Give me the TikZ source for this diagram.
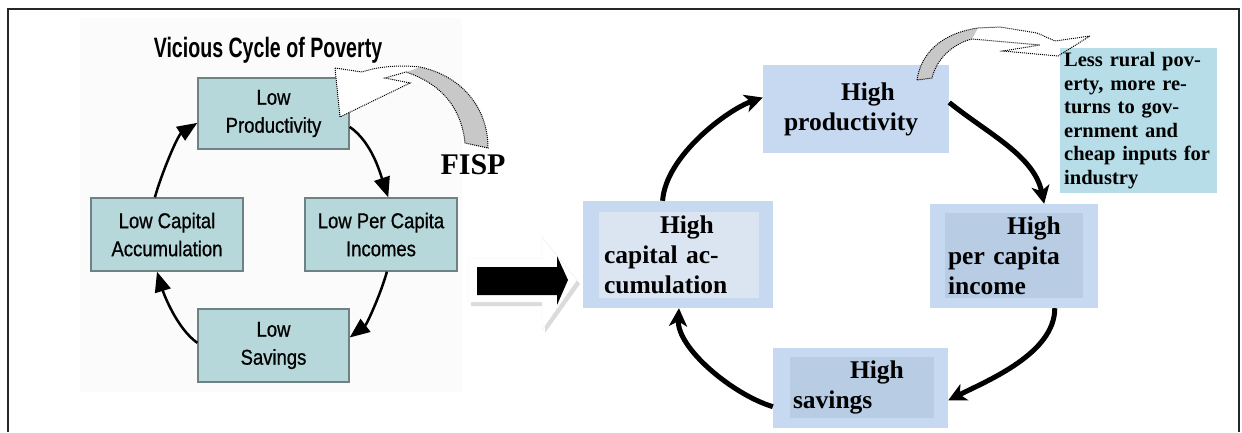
\documentclass[tikz,border=0pt]{standalone}
\usepackage{fontspec}
\setmainfont{Liberation Serif}
\newfontfamily\narrowsans[FakeStretch=0.86, FakeBold=0.8]{Liberation Sans}
\newfontfamily\titlesans[FakeStretch=0.70]{Liberation Sans}
\usetikzlibrary{arrows.meta}
\definecolor{lowfill}{HTML}{B7D8DA}
\definecolor{lowedge}{HTML}{6E8183}
\definecolor{highblue}{HTML}{C6D9F1}
\definecolor{highlight}{HTML}{DBE5F1}
\definecolor{highdark}{HTML}{B8CCE4}
\definecolor{lessfill}{HTML}{B6DDE8}
\definecolor{fispgray}{HTML}{C8C8C8}

\begin{document}
\begin{tikzpicture}[x=1pt, y=-1pt,
  lowbox/.style={draw=lowedge, fill=lowfill, line width=1.4pt, inner sep=0pt, align=center,
    font=\narrowsans\fontsize{21.5}{28}\selectfont},
  lowarrow/.style={line width=2.5pt, -{Triangle[length=20pt, width=16pt]}},
  highbox/.style={fill=highblue, inner sep=0pt},
  hightext/.style={inner sep=0pt, align=left, font=\fontsize{25.5}{30}\selectfont\bfseries},
  higharrow/.style={line width=5pt, -{Stealth[length=18pt, width=18pt, inset=5pt]}},
  fispline/.style={densely dotted, line width=1pt}]
  \useasboundingbox (0,0) rectangle (1242,432);
  \fill[gray!3] (80,18) rectangle (462,392);
  \draw[line width=2pt, black!85] (8,432) -- (8,9) -- (1238.5,9) -- (1238.5,432);

  % vicious cycle
  \node[font=\titlesans\bfseries\fontsize{28}{30}\selectfont] (CycleTitle) at (268,50) {Vicious Cycle of Poverty};
  \node[lowbox, minimum width=151pt, minimum height=71pt] (LowProd) at (273.5,113.5) {Low\\Productivity};
  \node[lowbox, minimum width=152pt, minimum height=73pt] (LowCap) at (167,234.5) {Low Capital\\Accumulation};
  \node[lowbox, minimum width=152pt, minimum height=73pt] (LowInc) at (381,234.5) {Low Per Capita\\Incomes};
  \node[lowbox, minimum width=151pt, minimum height=73pt] (LowSav) at (273.5,345.5) {Low\\Savings};
  \draw[lowarrow] (LowProd.-10) .. controls +(22,15) and +(-8,-24) .. (LowInc.79);
  \draw[lowarrow] (LowInc.-81) .. controls +(-6,22) and +(17,-13) .. (LowSav.6);
  \draw[lowarrow] (LowSav.178) .. controls +(-20,-14) and +(7,23) .. (LowCap.-105);
  \draw[lowarrow] (LowCap.108) .. controls +(6,-22) and +(-20,13) .. (LowProd.-173);

  % FISP arrow
  \fill[fispgray] (420,67) .. controls (462,76) and (488,108) .. (488,148) -- (465,143)
    .. controls (462,112) and (445,85) .. (406,72) -- cycle;
  \fill[white] (335,68) -- (362,72) .. controls (380,66) and (400,65) .. (420,67) -- (406,72)
    -- (385,78) -- (410,83) -- (340,117) -- cycle;
  \draw[fispline] (335,68) -- (362,72) .. controls (380,66) and (400,65) .. (420,67)
    .. controls (462,76) and (488,108) .. (488,148) -- (465,143)
    .. controls (462,112) and (445,85) .. (406,72) -- (385,78) -- (410,83) -- (340,117) -- cycle;
  \node[font=\fontsize{30}{32}\selectfont\bfseries] (Fisp) at (473,165) {FISP};

  % shift arrow
  \fill[gray!28] (471,262) -- (545,262) -- (545,241) -- (580,284) -- (545,333) -- (545,306) -- (471,306) -- cycle;
  \filldraw[fill=white, draw=gray!15] (468,258) -- (542,258) -- (542,237) -- (577,280) -- (542,330) -- (542,302) -- (468,302) -- cycle;
  \fill[black] (477,267) -- (557,267) -- (557,256) -- (568,280) -- (557,305) -- (557,295) -- (477,295) -- cycle;

  % virtuous cycle
  \node[highbox, hightext, minimum width=186pt, minimum height=88pt, text width=144pt] (HighProd) at (856,109)
    {\hspace*{57pt}High\\productivity};
  \node[highbox, minimum width=190pt, minimum height=107pt] (HighCap) at (678,254.5) {};
  \node[hightext, fill=highlight, minimum width=160pt, minimum height=86pt, text width=150pt] (HighCapText) at (679,255)
    {\hspace*{56pt}High\\capital ac-\\cumulation};
  \node[highbox, minimum width=168pt, minimum height=104pt] (HighInc) at (1014,256) {};
  \node[hightext, fill=highdark, minimum width=138pt, minimum height=85pt, text width=132pt] (HighIncText) at (1014,255.5)
    {\hspace*{59pt}High\\per capita\\income};
  \node[highbox, minimum width=175pt, minimum height=80pt] (HighSav) at (860.5,388) {};
  \node[hightext, fill=highdark, minimum width=144pt, minimum height=61pt, text width=138pt] (HighSavText) at (862,387.5)
    {\hspace*{57pt}High\\savings};
  \draw[higharrow] (HighProd.4) .. controls +(40,32) and +(-10,-48) .. (HighInc.60);
  \draw[higharrow] (HighInc.-52) .. controls +(0,45) and +(40,-20) .. (HighSav.-8);
  \draw[higharrow] (HighSav.-168) .. controls +(-40,-12) and +(-2,40) .. (HighCap.-89);
  \draw[higharrow] (HighCap.106) .. controls +(3,-45) and +(-35,12) .. (HighProd.173);

  \node[fill=lessfill, anchor=north west, minimum width=157pt, minimum height=145pt, text width=149pt,
    inner sep=0pt, align=left, font=\fontsize{20.5}{23.5}\selectfont\bfseries] (LessRural) at (1060,48)
    {Less rural pov-\\erty, more re-\\turns to gov-\\ernment and\\cheap inputs for\\industry};

  % result arrow
  \fill[fispgray] (917,80) .. controls (921,52) and (943,33) .. (978,28) -- (972,39)
    .. controls (952,44) and (936,60) .. (932,78) -- cycle;
  \draw[fispline] (917,80) .. controls (921,52) and (943,33) .. (978,28) -- (1000,27) -- (1037,33)
    -- (1055,41) -- (1090,36) -- (1058,56) -- (1003,51) -- (1040,45) -- (972,39)
    .. controls (952,44) and (936,60) .. (932,78) -- cycle;
\end{tikzpicture}
\end{document}
